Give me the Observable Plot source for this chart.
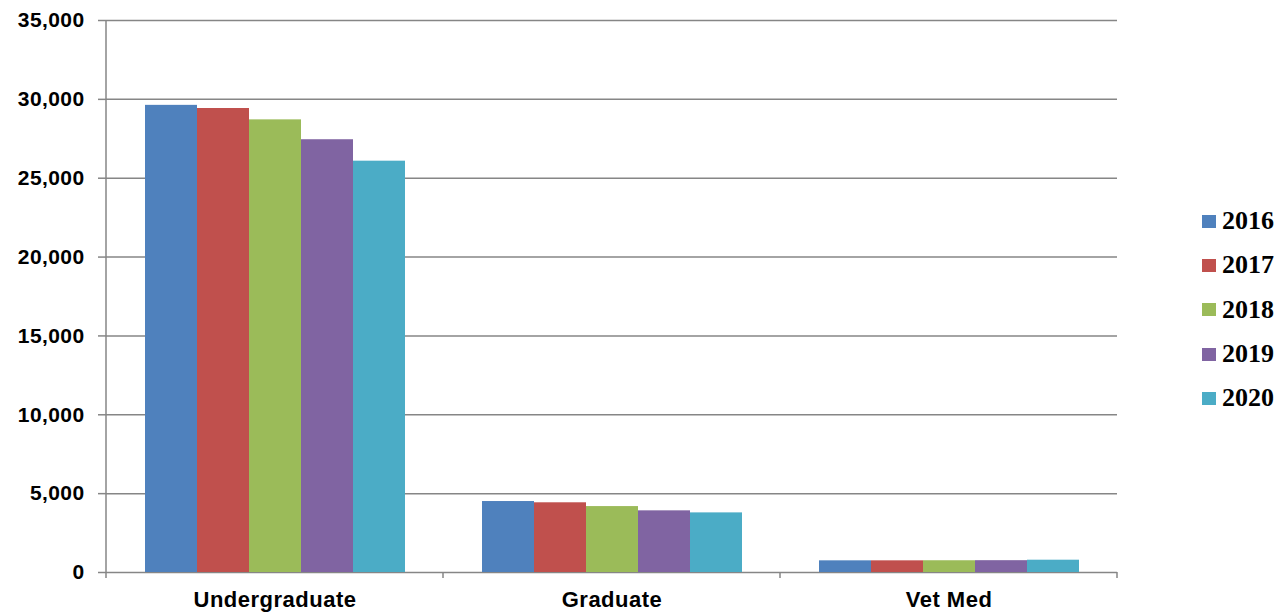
<!DOCTYPE html>
<html>
<head>
<meta charset="utf-8">
<script src="https://cdn.jsdelivr.net/npm/d3@7"></script>
<script src="https://cdn.jsdelivr.net/npm/@observablehq/plot@0.6"></script>
<style>
  html, body { margin: 0; padding: 0; background: #fff; }
  #wrap { position: relative; width: 1278px; height: 614px; overflow: hidden; }
  #legend { position: absolute; left: 1202px; top: 199px; font-family: "Liberation Serif", "Times New Roman", serif; font-weight: bold; font-size: 26px; color: #000; }
  #legend .row { height: 44.3px; display: flex; align-items: center; }
  #legend .sw { width: 14px; height: 13px; margin-right: 6px; }
  g[aria-label="y-axis tick label"] text { letter-spacing: 0.4px; }
  g[aria-label="fx-axis tick label"] text { letter-spacing: 0.5px; }
</style>
</head>
<body>
<div id="wrap"></div>
<script>
const categories = ["Undergraduate", "Graduate", "Vet Med"];
const years = ["2016", "2017", "2018", "2019", "2020"];
const undergraduate = [29620, 29420, 28700, 27440, 26080];
const graduate = [4500, 4420, 4180, 3910, 3780];
const vetMed = [740, 740, 745, 750, 780];
const yTicks = [0, 5000, 10000, 15000, 20000, 25000, 30000, 35000];
const colors = ["#4F81BD", "#C0504D", "#9BBB59", "#8064A2", "#4BACC6"];

const seriesByCategory = [undergraduate, graduate, vetMed];
const data = [];
categories.forEach((c, i) => years.forEach((y, j) => data.push({category: c, year: y, value: seriesByCategory[i][j]})));

const gray = "#868686";

const chart = Plot.plot({
  width: 1278,
  height: 614,
  marginLeft: 105,
  marginRight: 161,
  marginTop: 20,
  marginBottom: 42,
  fx: {domain: categories, padding: 0, label: null, axis: null},
  x: {domain: years, paddingInner: 0, paddingOuter: 0.74, axis: null},
  y: {domain: [0, 35000], axis: null},
  color: {domain: years, range: colors},
  style: {fontFamily: "'Liberation Sans', Arial, sans-serif", color: "#000", background: "#fff"},
  marks: [
    Plot.ruleY(yTicks, {stroke: gray, strokeWidth: 1.5}),
    Plot.barY(data, {fx: "category", x: "year", y: "value", fill: "year"}),
    Plot.axisY({ticks: yTicks, tickFormat: d3.format(","), tickSize: 8, tickPadding: 14, stroke: gray, strokeWidth: 1.5, fill: "#000", fontSize: 21, fontWeight: "bold", label: null}),
    Plot.axisFx({anchor: "bottom", tickSize: 0, tickPadding: 19, fontSize: 22, fontWeight: "bold", fill: "#000", label: null})
  ]
});

// axis line and category boundary ticks, placed with the chart's own scales
const fx = chart.scale("fx");
const ys = chart.scale("y");
const svg = d3.select(chart.tagName.toLowerCase() === "svg" ? chart : chart.querySelector("svg"));
const y0 = ys.apply(0), yTop = ys.apply(35000);
const xLeft = fx.apply(categories[0]);
const g = svg.append("g").attr("stroke", gray).attr("stroke-width", 1.5);
g.append("line").attr("x1", xLeft).attr("x2", xLeft).attr("y1", yTop).attr("y2", y0 + 6);
categories.forEach(c => {
  const xr = fx.apply(c) + fx.bandwidth;
  g.append("line").attr("x1", xr).attr("x2", xr).attr("y1", y0).attr("y2", y0 + 6);
});

const wrap = document.getElementById("wrap");
wrap.appendChild(chart);

const legend = document.createElement("div");
legend.id = "legend";
years.forEach((y, i) => {
  const row = document.createElement("div");
  row.className = "row";
  row.innerHTML = `<span class="sw" style="background:${colors[i]}"></span><span>${y}</span>`;
  legend.appendChild(row);
});
wrap.appendChild(legend);
</script>
</body>
</html>
